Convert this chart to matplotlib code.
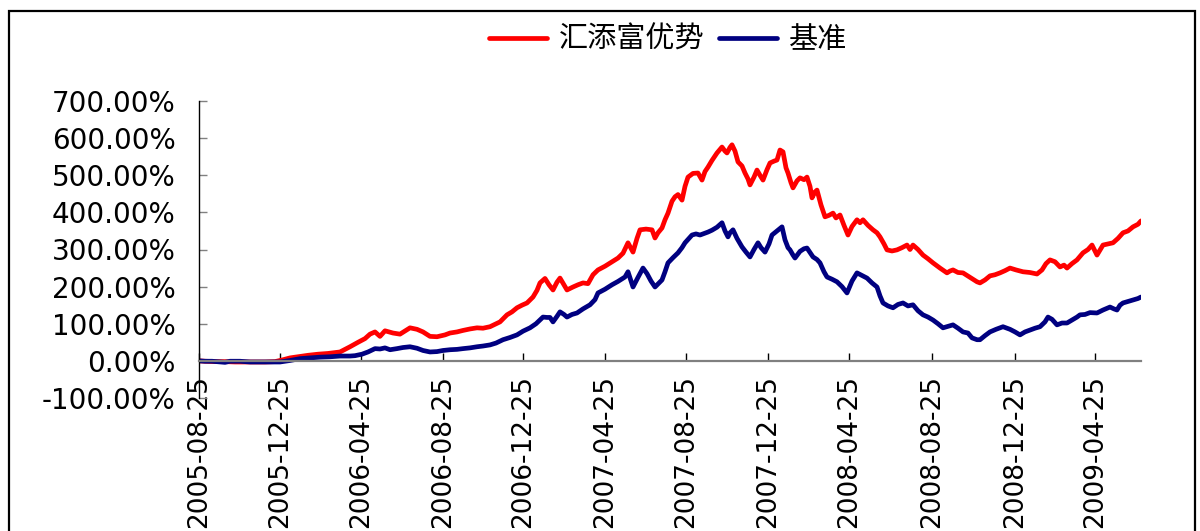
import matplotlib
matplotlib.use("Agg")
import matplotlib.pyplot as plt
import matplotlib.patches as mpatches
from matplotlib.ticker import FuncFormatter

# ---- data (trading-day index since 2005-08-25, cumulative return in %) ----
fund_day = [0, 6, 16, 26, 36, 46, 56, 66, 76, 84, 91, 101, 109, 119, 129, 141, 151, 159, 166, 171,
            176, 181, 186, 194, 201, 211, 218, 224, 231, 238, 246, 251, 258, 264, 271, 278, 284, 291,
            301, 308, 313, 318, 323, 328, 334, 338, 341, 346, 350, 354, 358, 361, 365, 368, 374, 379,
            384, 389, 394, 399, 406, 413, 419, 424, 429, 434, 438, 441, 447, 453, 456, 459, 463, 466,
            469, 473, 476, 479, 483, 486, 489, 494, 499, 503, 506, 509, 513, 518, 523, 526, 528, 531,
            533, 536, 539, 543, 546, 549, 551, 555, 558, 561, 564, 568, 571, 575, 578, 581, 584, 587,
            589, 592, 594, 598, 601, 605, 608, 611, 613, 616, 618, 622, 626, 630, 634, 637, 641, 645,
            649, 653, 658, 661, 664, 669, 674, 678, 681, 685, 688, 693, 698, 703, 708, 711, 714, 719,
            724, 729, 734, 741, 748, 751, 754, 759, 764, 771, 778, 781, 786, 791, 796, 801, 806, 811,
            817, 824, 831, 838, 843, 847, 851, 856, 861, 865, 868, 873, 878, 884, 889, 893, 898, 904,
            909, 914, 919, 924, 929, 934, 939, 942]
fund_ret = [0, -1, -2, -2, -3, -3, -3, -3, -2, 3, 8, 12, 15, 18, 20, 24, 38, 50, 60, 72,
            78, 66, 81, 75, 72, 89, 85, 78, 66, 65, 70, 75, 78, 82, 86, 89, 88, 92,
            105, 124, 132, 143, 150, 156, 172, 190, 210, 222, 205, 191, 212, 223, 205, 191, 199, 205,
            210, 208, 232, 245, 255, 267, 277, 290, 318, 293, 330, 353, 355, 353, 331, 345, 358, 380,
            398, 430, 442, 448, 433, 470, 495, 505, 506, 487, 510, 522, 540, 560, 576, 565, 560, 575,
            582, 565, 536, 525, 506, 490, 474, 495, 514, 500, 487, 515, 533, 538, 541, 568, 563, 520,
            506, 480, 466, 485, 493, 488, 495, 470, 439, 455, 460, 420, 388, 392, 398, 385, 393, 365,
            339, 362, 380, 372, 380, 365, 353, 345, 334, 315, 299, 296, 299, 305, 312, 300, 312, 300,
            285, 275, 264, 250, 237, 242, 245, 238, 237, 225, 213, 210, 218, 229, 232, 237, 243, 250,
            245, 240, 238, 234, 245, 262, 272, 267, 253, 258, 250, 262, 272, 291, 300, 312, 285, 312,
            315, 318, 330, 345, 350, 361, 368, 377]

bench_day = [0, 6, 13, 21, 26, 31, 41, 51, 61, 71, 81, 91, 101, 111, 121, 131, 141, 151, 156, 163,
             169, 176, 181, 186, 191, 198, 204, 211, 218, 224, 231, 238, 244, 251, 258, 264, 271, 278,
             284, 291, 297, 304, 311, 318, 324, 331, 337, 344, 348, 351, 354, 358, 361, 365, 368, 373,
             378, 384, 391, 396, 399, 406, 413, 419, 426, 429, 432, 434, 439, 444, 448, 452, 456, 460,
             463, 466, 469, 474, 479, 483, 486, 490, 493, 497, 501, 505, 509, 513, 518, 523, 526, 529,
             531, 534, 538, 543, 547, 551, 555, 559, 562, 566, 570, 573, 578, 583, 586, 589, 591, 594,
             596, 601, 605, 608, 611, 614, 618, 621, 625, 628, 633, 638, 643, 648, 653, 658, 663, 668,
             673, 678, 681, 684, 689, 694, 699, 704, 709, 714, 719, 724, 729, 734, 739, 744, 749, 754,
             759, 764, 769, 773, 778, 781, 786, 791, 797, 804, 811, 816, 821, 826, 831, 836, 841, 846,
             849, 853, 858, 863, 868, 873, 878, 881, 886, 891, 898, 904, 911, 915, 918, 921, 924, 929,
             934, 939, 942]
bench_ret = [0, -1, -1, -3, -4, -1, -1, -3, -3, -3, -3, 1, 6, 8, 10, 11, 13, 13, 14, 18,
             24, 33, 32, 35, 30, 33, 36, 38, 34, 28, 24, 25, 28, 30, 31, 33, 35, 38,
             40, 43, 48, 57, 63, 70, 80, 89, 100, 118, 117, 117, 105, 120, 132, 125, 118, 125,
             129, 140, 151, 165, 183, 193, 205, 214, 226, 240, 215, 199, 225, 250, 235, 215, 199, 210,
             218, 240, 264, 278, 291, 305, 318, 330, 339, 342, 339, 343, 347, 352, 360, 372, 350, 334,
             345, 353, 330, 307, 293, 280, 300, 318, 305, 293, 315, 339, 350, 361, 326, 305, 299, 285,
             277, 295, 302, 304, 292, 280, 273, 264, 240, 226, 220, 213, 200, 183, 215, 237, 230, 223,
             210, 199, 175, 156, 148, 143, 152, 156, 148, 151, 135, 124, 118, 110, 100, 89, 93, 97,
             88, 78, 75, 62, 57, 57, 68, 78, 85, 92, 85, 78, 70, 78, 83, 88, 92, 105,
             118, 112, 97, 102, 102, 110, 118, 124, 125, 130, 129, 137, 145, 140, 137, 150, 156, 160,
             164, 168, 172]

tick_day = [0, 81, 162, 244, 324, 406, 487, 569, 650, 733, 816, 896]
tick_label = ["2005-08-25", "2005-12-25", "2006-04-25", "2006-08-25", "2006-12-25", "2007-04-25",
              "2007-08-25", "2007-12-25", "2008-04-25", "2008-08-25", "2008-12-25", "2009-04-25"]
y_ticks = [-100, 0, 100, 200, 300, 400, 500, 600, 700]
series_names = ["汇添富优势", "基准"]

# ---- figure ----
fig = plt.figure(figsize=(12, 5.31), dpi=100)
ax = fig.add_axes([199 / 1200, 1 - 398 / 531, 942 / 1200, 297 / 531])

# spine setup first (moving a spine resets the ticks)
for s in ["top", "right"]:
    ax.spines[s].set_visible(False)
ax.spines["left"].set_color("black")
ax.spines["left"].set_linewidth(1.0)
ax.spines["bottom"].set_position(("data", 0))
ax.spines["bottom"].set_color("#808080")
ax.spines["bottom"].set_linewidth(1.6)

ax.plot(fund_day, fund_ret, color="#FF0000", lw=3.4, solid_joinstyle="round",
        solid_capstyle="round", label=series_names[0])
ax.plot(bench_day, bench_ret, color="#000080", lw=3.4, solid_joinstyle="round",
        solid_capstyle="round", label=series_names[1])

ax.set_xlim(0, 942)
ax.set_ylim(-100, 700)
ax.set_yticks(y_ticks)
ax.yaxis.set_major_formatter(FuncFormatter(lambda v, p: f"{v:.2f}%"))
ax.set_xticks(tick_day)
ax.set_xticklabels(tick_label)

ax.tick_params(axis="y", direction="in", length=6, width=1, color="#808080",
               labelsize=20, pad=17)
ax.tick_params(axis="x", direction="in", length=5.5, width=1, color="black",
               labelsize=19, pad=10, labelrotation=90)
for lab in ax.get_xticklabels():
    lab.set_fontfamily("DejaVu Sans")
    lab.set_verticalalignment("top")
    lab.set_horizontalalignment("center")
for lab in ax.get_yticklabels():
    lab.set_fontfamily("DejaVu Sans")

leg = fig.legend(loc="center", bbox_to_anchor=(668 / 1200, 1 - 40 / 531), ncol=2,
                 frameon=False, prop={"family": ["Noto Sans CJK SC", "DejaVu Sans"], "size": 21},
                 handlelength=2.0, handletextpad=0.4, columnspacing=0.5, borderpad=0)

# outer frame
fig.patches.append(mpatches.Rectangle((9 / 1200, -0.05), 1186 / 1200, 0.05 + (1 - 11 / 531),
                                      transform=fig.transFigure, fill=False, ec="black", lw=1.6))

fig.savefig("out.png", dpi=100)
